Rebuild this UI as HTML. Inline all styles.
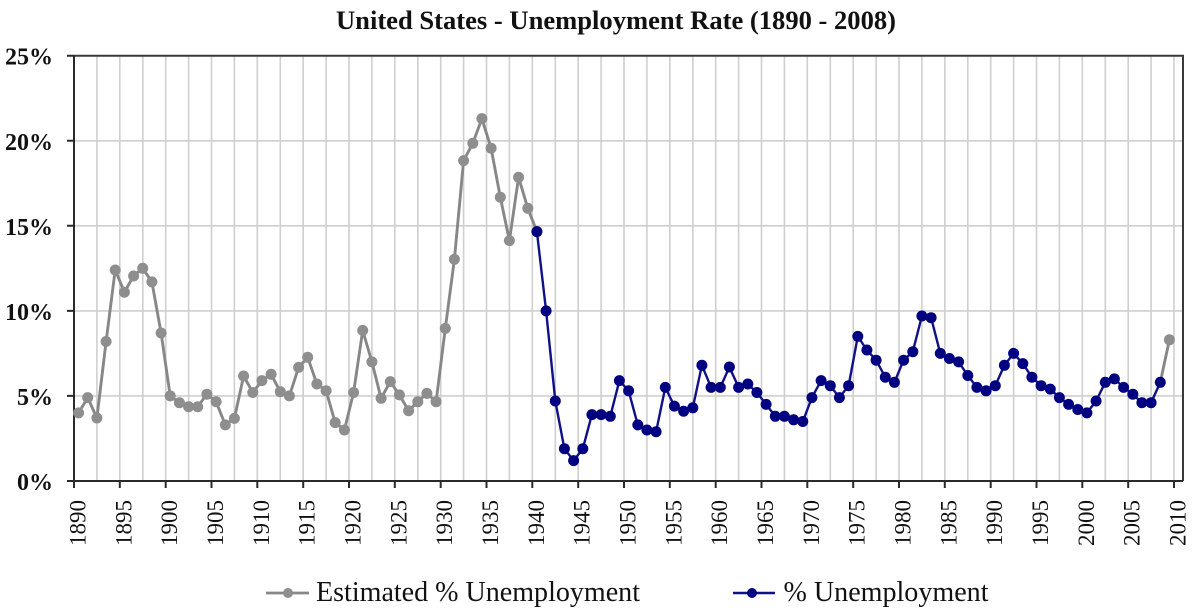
<!DOCTYPE html>
<html>
<head>
<meta charset="utf-8">
<style>
  html, body { margin: 0; padding: 0; background: #ffffff; }
  svg { display: block; }
  text { font-family: "Liberation Serif", "Times New Roman", serif; fill: #111; }
</style>
</head>
<body>
<svg width="1200" height="614" viewBox="0 0 1200 614" xmlns="http://www.w3.org/2000/svg">
  <defs>
    <marker id="mg" markerWidth="14" markerHeight="14" refX="7" refY="7" markerUnits="userSpaceOnUse" overflow="visible">
      <circle cx="7" cy="7" r="5.5" fill="#8e8e8e"/>
    </marker>
    <marker id="mb" markerWidth="14" markerHeight="14" refX="7" refY="7" markerUnits="userSpaceOnUse" overflow="visible">
      <circle cx="7" cy="7" r="5.5" fill="#000080"/>
    </marker>
  </defs>
  <rect width="1200" height="614" fill="#ffffff"/>

  <!-- Title -->
  <text x="336" y="29" font-size="26.5" font-weight="bold" textLength="560" lengthAdjust="spacingAndGlyphs">United States - Unemployment Rate (1890 - 2008)</text>

  <!-- Horizontal gridlines -->
  <path d="M74 140.8H1183M74 225.8H1183M74 310.9H1183M74 395.9H1183" stroke="#cfcfcf" stroke-width="1.6" fill="none"/>

  <!-- Vertical gridlines -->
  <path d="M96.9 56V481M119.8 56V481M142.8 56V481M165.7 56V481M188.6 56V481M211.5 56V481M234.4 56V481M257.3 56V481M280.3 56V481M303.2 56V481M326.1 56V481M349.0 56V481M371.9 56V481M394.8 56V481M417.8 56V481M440.7 56V481M463.6 56V481M486.5 56V481M509.4 56V481M532.3 56V481M555.3 56V481M578.2 56V481M601.1 56V481M624.0 56V481M646.9 56V481M669.8 56V481M692.8 56V481M715.7 56V481M738.6 56V481M761.5 56V481M784.4 56V481M807.3 56V481M830.3 56V481M853.2 56V481M876.1 56V481M899.0 56V481M921.9 56V481M944.8 56V481M967.8 56V481M990.7 56V481M1013.6 56V481M1036.5 56V481M1059.4 56V481M1082.3 56V481M1105.3 56V481M1128.2 56V481M1151.1 56V481M1174.0 56V481" stroke="#cfcfcf" stroke-width="1.6" fill="none"/>

  <!-- Plot border / axes -->
  <path d="M74 55.7H1183V481" stroke="#3a3a3a" stroke-width="2" fill="none"/>
  <path d="M74 55.7V481H1183" stroke="#2a2a2a" stroke-width="2" fill="none"/>

  <!-- Y ticks -->
  <path d="M67 55.7H74M67 140.8H74M67 225.8H74M67 310.9H74M67 395.9H74M67 481H74" stroke="#2a2a2a" stroke-width="2" fill="none"/>

  <!-- X ticks -->
  <path d="M74 481V488M119.8 481V488M165.7 481V488M211.5 481V488M257.3 481V488M303.2 481V488M349.0 481V488M394.8 481V488M440.7 481V488M486.5 481V488M532.3 481V488M578.2 481V488M624.0 481V488M669.8 481V488M715.7 481V488M761.5 481V488M807.3 481V488M853.2 481V488M899.0 481V488M944.8 481V488M990.7 481V488M1036.5 481V488M1082.3 481V488M1128.2 481V488M1174.0 481V488" stroke="#2a2a2a" stroke-width="2" fill="none"/>

  <!-- Y labels -->
  <g font-size="24" font-weight="bold" text-anchor="end">
    <text x="53" y="64.7">25%</text>
    <text x="53" y="149.8">20%</text>
    <text x="53" y="234.8">15%</text>
    <text x="53" y="319.9">10%</text>
    <text x="53" y="404.9">5%</text>
    <text x="53" y="490">0%</text>
  </g>

  <!-- X labels -->
  <g font-size="23" text-anchor="end">
    <text transform="translate(85.5,500) rotate(-90)">1890</text>
    <text transform="translate(131.3,500) rotate(-90)">1895</text>
    <text transform="translate(177.2,500) rotate(-90)">1900</text>
    <text transform="translate(223.0,500) rotate(-90)">1905</text>
    <text transform="translate(268.8,500) rotate(-90)">1910</text>
    <text transform="translate(314.7,500) rotate(-90)">1915</text>
    <text transform="translate(360.5,500) rotate(-90)">1920</text>
    <text transform="translate(406.3,500) rotate(-90)">1925</text>
    <text transform="translate(452.2,500) rotate(-90)">1930</text>
    <text transform="translate(498.0,500) rotate(-90)">1935</text>
    <text transform="translate(543.8,500) rotate(-90)">1940</text>
    <text transform="translate(589.7,500) rotate(-90)">1945</text>
    <text transform="translate(635.5,500) rotate(-90)">1950</text>
    <text transform="translate(681.3,500) rotate(-90)">1955</text>
    <text transform="translate(727.2,500) rotate(-90)">1960</text>
    <text transform="translate(773.0,500) rotate(-90)">1965</text>
    <text transform="translate(818.8,500) rotate(-90)">1970</text>
    <text transform="translate(864.7,500) rotate(-90)">1975</text>
    <text transform="translate(910.5,500) rotate(-90)">1980</text>
    <text transform="translate(956.3,500) rotate(-90)">1985</text>
    <text transform="translate(1002.2,500) rotate(-90)">1990</text>
    <text transform="translate(1048.0,500) rotate(-90)">1995</text>
    <text transform="translate(1093.8,500) rotate(-90)">2000</text>
    <text transform="translate(1139.7,500) rotate(-90)">2005</text>
    <text transform="translate(1185.5,500) rotate(-90)">2010</text>
  </g>

  <!-- Estimated series (gray) -->
  <polyline fill="none" stroke="#878787" stroke-width="2.9" stroke-linejoin="round"
    marker-start="url(#mg)" marker-mid="url(#mg)" marker-end="url(#mg)"
    points="78.6,412.9 87.7,397.6 96.9,418.0 106.1,341.5 115.2,270.0 124.4,292.2 133.6,276.0 142.7,268.3 151.9,281.9 161.1,333.0 170.2,395.9 179.4,402.7 188.6,406.7 197.7,406.7 206.9,394.2 216.1,401.7 225.3,424.9 234.4,418.4 243.6,376.0 252.8,392.5 261.9,380.6 271.1,374.3 280.3,391.7 289.4,395.9 298.6,367.4 307.7,357.3 316.9,384.0 326.1,390.7 335.2,422.6 344.4,430.0 353.6,392.5 362.7,330.4 371.9,361.9 381.1,398.3 390.3,381.6 399.4,394.9 408.6,410.7 417.8,401.7 426.9,393.4 436.1,401.7 445.3,328.4 454.4,259.3 463.6,160.6 472.8,143.3 481.9,118.6 491.1,148.2 500.3,197.2 509.4,240.6 518.6,177.3 527.8,208.3 536.9,231.6"/>
  <polyline fill="none" stroke="#878787" stroke-width="2.9" stroke-linejoin="round"
    marker-end="url(#mg)"
    points="1160.3,382.3 1169.4,339.8"/>

  <!-- % Unemployment series (navy) -->
  <polyline fill="none" stroke="#101088" stroke-width="2.4" stroke-linejoin="round"
    marker-start="url(#mb)" marker-mid="url(#mb)" marker-end="url(#mb)"
    points="536.9,231.6 546.1,310.9 555.3,401.0 564.4,448.7 573.6,460.6 582.8,448.7 591.9,414.6 601.1,414.6 610.3,416.3 619.4,380.6 628.6,390.8 637.8,424.9 646.9,430.0 656.1,431.7 665.3,387.4 674.4,406.1 683.6,411.2 692.8,407.8 701.9,365.3 711.1,387.4 720.3,387.4 729.4,367.0 738.6,387.4 747.8,384.0 756.9,392.5 766.1,404.4 775.3,416.3 784.4,416.3 793.6,419.8 802.8,421.5 811.9,397.6 821.1,380.6 830.3,385.7 839.4,397.6 848.6,385.7 857.8,336.4 866.9,350.0 876.1,360.2 885.3,377.2 894.4,382.3 903.6,360.2 912.8,351.7 921.9,316.0 931.1,317.7 940.3,353.4 949.4,358.5 958.6,361.9 967.8,375.5 976.9,387.4 986.1,390.8 995.3,385.7 1004.4,365.3 1013.6,353.4 1022.8,363.6 1031.9,377.2 1041.1,385.7 1050.3,389.1 1059.4,397.6 1068.6,404.4 1077.8,409.5 1086.9,412.9 1096.1,401.0 1105.3,382.3 1114.4,378.9 1123.6,387.4 1132.8,394.2 1141.9,402.7 1151.1,402.7 1160.3,382.3"/>

  <!-- Legend -->
  <line x1="266" y1="593" x2="309" y2="593" stroke="#878787" stroke-width="2.8"/>
  <circle cx="288" cy="593" r="5" fill="#8e8e8e"/>
  <text x="316" y="601" font-size="28" textLength="324" lengthAdjust="spacingAndGlyphs">Estimated % Unemployment</text>

  <line x1="733" y1="593" x2="775" y2="593" stroke="#101088" stroke-width="2.6"/>
  <circle cx="752" cy="593" r="5" fill="#000080"/>
  <text x="783.5" y="601" font-size="28" textLength="205" lengthAdjust="spacingAndGlyphs">% Unemployment</text>
</svg>
</body>
</html>
